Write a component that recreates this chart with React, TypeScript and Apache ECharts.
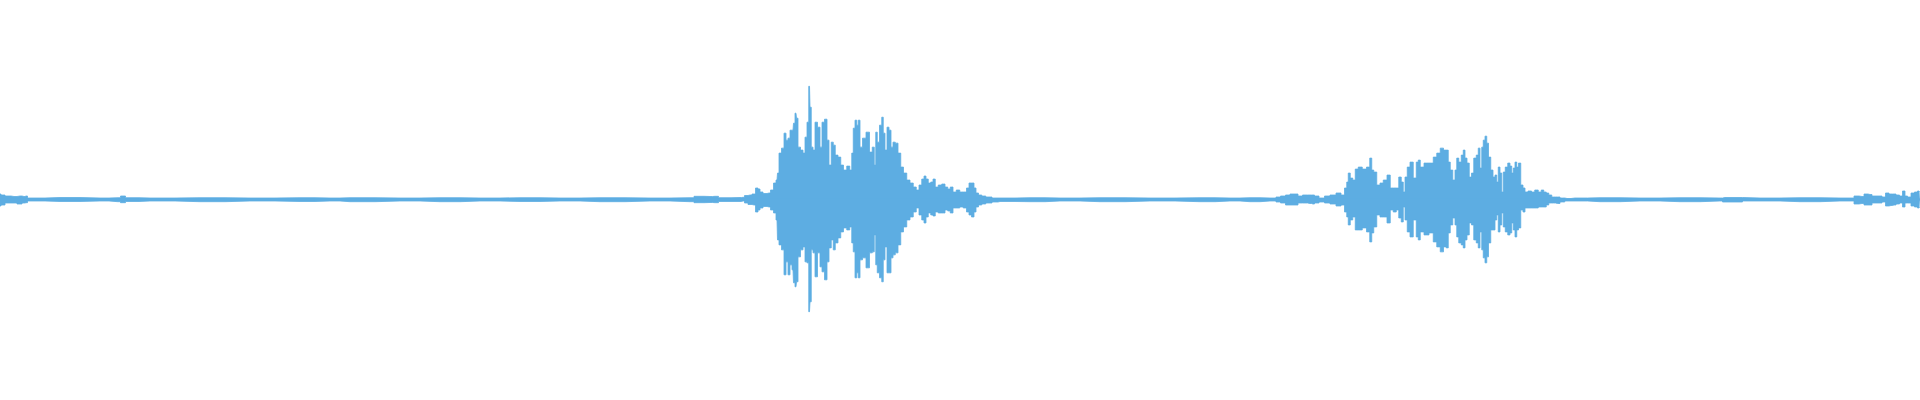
import React, { useEffect, useRef } from "react";
import * as echarts from "echarts";

// [time (s), peak high (% full scale), peak low (% full scale)]
const quietStart: [number, number, number][] = [
  [0, 2.75, -3.25], [0.02, 2.25, -2.75], [0.08, 1.75, -1.75], [0.14, 1.5, -1.75],
  [0.2, 1.75, -2.25], [0.24, 1.5, -1.75], [0.26, 1.75, -1.6], [0.29, 0.75, -0.75],
  [0.3, 0.75, -0.75], [0.6, 1, -1], [1.0, 0.75, -0.75], [1.18, 0.9, -1.1],
  [1.23, 1.75, -1.6], [1.28, 0.9, -1], [1.5, 0.75, -0.75], [2.0, 0.9, -1.1],
  [2.5, 0.75, -0.75], [3.0, 0.9, -1], [3.3, 0.75, -0.75], [3.5, 0.9, -1.1],
  [4.0, 0.75, -0.75], [4.4, 0.9, -1.1], [4.8, 0.75, -0.75], [5.2, 0.9, -1],
  [5.6, 0.75, -0.75], [6.0, 0.9, -1.1], [6.5, 0.75, -0.75], [6.9, 0.9, -1.1],
  [6.98, 1.6, -1.6], [7.1, 1.5, -1.5], [7.15, 1.6, -1.6], [7.22, 0.9, -1],
  [7.4, 1, -1], [7.43, 1.1, -0.75],
];

const burstA: [number, number, number][] = [
  [7.46, 2, -1.75], [7.5, 2.25, -2.5], [7.54, 2.75, -2.75], [7.57, 5.75, -6.25],
  [7.59, 5.25, -5.25], [7.61, 3.75, -4.25], [7.65, 3, -3.5], [7.69, 3.25, -3.75],
  [7.72, 4.75, -5.25], [7.75, 8.25, -6.75], [7.77, 9.75, -10.25], [7.78, 13.25, -20.25],
  [7.8, 23.25, -22.75], [7.83, 25.75, -25.25], [7.85, 33.25, -37.75], [7.87, 29.75, -31.25],
  [7.89, 30.75, -37.75], [7.91, 34.75, -32.75], [7.93, 34.75, -35.25], [7.94, 38.25, -41.75],
  [7.96, 43.25, -43.75], [7.97, 40.75, -41.25], [7.99, 26.25, -28.75], [8.02, 24.75, -25.25],
  [8.04, 23.25, -23.75], [8.06, 31.25, -31.25], [8.08, 38.75, -31.75], [8.095, 56.75, -56.25],
  [8.105, 46.25, -51.25], [8.12, 26.25, -25.25], [8.14, 24.75, -26.75], [8.16, 38.75, -38.75],
  [8.19, 36.25, -26.75], [8.21, 26.25, -33.75], [8.23, 38.75, -36.25], [8.26, 40.25, -40.25],
  [8.28, 29.75, -31.25], [8.3, 17.25, -24.25], [8.325, 28.75, -20.25], [8.34, 27.25, -25.25],
  [8.365, 22.25, -21.75], [8.395, 21.25, -19.25], [8.42, 17.25, -16.25], [8.45, 14.75, -14.25],
  [8.485, 16.75, -15.25], [8.51, 14.75, -13.75], [8.525, 23.25, -21.75], [8.54, 35.75, -26.25],
  [8.56, 39.75, -39.25], [8.575, 37.25, -36.75], [8.59, 39.75, -39.25], [8.61, 26.25, -30.25],
  [8.64, 30.75, -29.25], [8.68, 33.75, -34.25], [8.71, 23.75, -26.75], [8.735, 26.25, -26.25],
  [8.75, 17.25, -17.75], [8.765, 33.75, -32.75], [8.78, 28.75, -36.75], [8.81, 37.25, -39.25],
  [8.825, 41.25, -41.25], [8.84, 33.25, -30.25], [8.86, 24.75, -23.75], [8.88, 36.25, -36.75],
  [8.9, 34.75, -36.75], [8.92, 26.25, -29.25], [8.94, 28.75, -27.75], [8.965, 28.25, -26.75],
  [8.995, 23.25, -22.75], [9.02, 16.25, -16.25], [9.05, 13.25, -13.75], [9.085, 9.75, -10.25],
  [9.115, 8.25, -8.75], [9.15, 6.25, -6.25], [9.175, 4.75, -4.25], [9.205, 7.25, -7.75],
  [9.23, 10.25, -10.25], [9.25, 11.75, -11.75], [9.27, 10.25, -8.75], [9.295, 8.25, -6.75],
  [9.32, 8.75, -7.75], [9.34, 10.25, -8.25], [9.365, 6.25, -6.25], [9.4, 7.25, -6.75],
  [9.435, 7.75, -6.75], [9.465, 6.25, -5.25], [9.49, 5.25, -5.75], [9.515, 6.25, -6.75],
  [9.545, 3.75, -4.25], [9.58, 4.75, -4.25], [9.615, 3.75, -3.75], [9.65, 3.75, -4.25],
  [9.68, 5.75, -6.25], [9.7, 8.25, -7.75], [9.73, 8.25, -8.75], [9.75, 5.75, -6.25],
  [9.77, 3.25, -3.75], [9.8, 2.25, -2.75], [9.835, 1.75, -2.25], [9.88, 1.25, -1.75],
  [9.96, 0.75, -1.25],
];

const quietMid: [number, number, number][] = [
  [10.0, 0.75, -1], [10.3, 0.9, -1.1], [10.6, 0.75, -0.75], [11.0, 0.9, -1.1],
  [11.5, 0.75, -0.75], [12.0, 0.9, -1.1], [12.3, 0.75, -0.75], [12.5, 0.9, -1.1],
  [12.7, 0.75, -0.75], [12.74, 0.75, -0.75],
];

const burstB: [number, number, number][] = [
  [12.78, 1.25, -1.25], [12.83, 1.75, -1.75], [12.88, 2.25, -2.75], [12.92, 2.75, -2.75],
  [12.96, 2.75, -2.75], [13.0, 1.75, -1.75], [13.05, 2.25, -1.75], [13.1, 2.25, -2],
  [13.13, 2.25, -2.25], [13.16, 1.75, -1.75], [13.22, 0.75, -1.25], [13.27, 1.75, -1.75],
  [13.33, 2.25, -2.25], [13.39, 3.25, -3.25], [13.43, 2.25, -2.75], [13.46, 5.75, -6.25],
  [13.475, 8.75, -8.75], [13.49, 13.25, -12.75], [13.515, 10.75, -10.25], [13.54, 9.75, -8.75],
  [13.565, 15.25, -15.25], [13.6, 16.25, -15.25], [13.645, 15.25, -14.25], [13.685, 16.25, -16.25],
  [13.71, 20.75, -21.25], [13.725, 14.75, -16.75], [13.75, 13.75, -13.75], [13.785, 7.25, -7.75],
  [13.815, 8.25, -8.75], [13.85, 9.75, -8.75], [13.89, 12.25, -11.75], [13.915, 5.75, -5.25],
  [13.95, 5.75, -6.25], [13.975, 5.75, -5.25], [14.0, 11.25, -9.25], [14.025, 8.75, -11.25],
  [14.04, 3.75, -3.75], [14.06, 11.25, -10.25], [14.085, 16.25, -16.25], [14.115, 18.75, -18.75],
  [14.15, 10.75, -10.25], [14.175, 18.75, -18.75], [14.19, 19.75, -20.25], [14.215, 16.25, -16.25],
  [14.265, 18.25, -17.75], [14.315, 18.25, -16.75], [14.35, 21.25, -21.25], [14.385, 23.25, -23.75],
  [14.42, 25.75, -26.25], [14.45, 24.75, -23.75], [14.475, 24.75, -24.25], [14.49, 18.75, -16.75],
  [14.515, 14.75, -12.75], [14.54, 9.75, -9.25], [14.56, 14.75, -12.75], [14.575, 20.75, -18.75],
  [14.6, 18.75, -21.75], [14.625, 22.25, -22.75], [14.64, 24.75, -24.25], [14.66, 20.75, -20.25],
  [14.68, 18.25, -17.75], [14.705, 11.25, -11.75], [14.725, 13.25, -12.75], [14.75, 20.75, -20.25],
  [14.775, 22.25, -21.75], [14.79, 25.75, -24.25], [14.81, 15.75, -16.25], [14.825, 26.25, -25.25],
  [14.84, 29.75, -29.25], [14.86, 31.75, -31.75], [14.875, 28.25, -28.75], [14.895, 21.25, -21.75],
  [14.92, 14.75, -15.25], [14.94, 11.25, -15.25], [14.96, 12.25, -10.25], [14.975, 8.75, -7.75],
  [14.99, 16.25, -16.25], [15.01, 13.25, -12.75], [15.025, 3.75, -6.75], [15.04, 13.75, -13.75],
  [15.065, 16.25, -16.25], [15.09, 18.25, -17.75], [15.11, 16.75, -16.75], [15.125, 13.25, -11.75],
  [15.14, 15.75, -15.25], [15.16, 18.75, -18.75], [15.175, 16.25, -15.25], [15.195, 18.25, -14.25],
  [15.22, 7.25, -5.25], [15.24, 5.75, -6.25], [15.26, 3.75, -4.25], [15.3, 4.25, -4.25],
  [15.33, 3.75, -4.25], [15.365, 4.75, -4.25], [15.4, 3.75, -3.75], [15.425, 4.75, -3.75],
  [15.45, 3.75, -3.75], [15.475, 3.25, -2.75], [15.5, 2.25, -1.75], [15.535, 1.25, -1.75],
  [15.575, 1.25, -2], [15.625, 0.75, -1.25], [15.67, 0.5, -0.75],
];

const quietEnd: [number, number, number][] = [
  [15.75, 0.75, -0.75], [16.0, 0.9, -1.1], [16.4, 0.75, -0.75], [16.8, 0.9, -1.1],
  [17.2, 0.75, -0.75], [17.25, 1, -1.25], [17.6, 0.75, -0.75], [18.0, 0.9, -1.1],
  [18.4, 0.75, -0.75], [18.52, 0.75, -0.75], [18.56, 1.75, -2.25], [18.62, 1.5, -2],
  [18.66, 2.75, -2.75], [18.7, 2.5, -2.75], [18.74, 1.75, -1.75], [18.8, 1.75, -1.75],
  [18.84, 1.25, -1.25], [18.87, 3.25, -3.25], [18.91, 2.75, -3], [18.94, 2.75, -2.75],
  [18.98, 2.25, -2.25], [19.01, 1.75, -1.75], [19.04, 4.25, -3.75], [19.06, 1.75, -1.75],
  [19.09, 1.25, -1.75], [19.13, 3.25, -3.25], [19.16, 3.75, -3.75], [19.19, 4.25, -4.25],
  [19.2, 3.75, -3.75],
];

const DURATION = 19.2;
const WAVE_COLOR = "#5DADE2";

export default function App() {
  const ref = useRef<HTMLDivElement>(null);

  useEffect(() => {
    if (!ref.current) return;
    const chart = echarts.init(ref.current, undefined, { renderer: "svg" });
    const all = [...quietStart, ...burstA, ...quietMid, ...burstB, ...quietEnd];
    const high = all.map((d) => [d[0], d[1]]);
    const low = all.map((d) => [d[0], d[2]]);
    const common = {
      type: "line" as const,
      showSymbol: false,
      symbol: "none",
      silent: true,
      step: "middle" as const,
      lineStyle: { color: WAVE_COLOR, width: 0.8 },
      itemStyle: { color: WAVE_COLOR },
    };
    chart.setOption({
      animation: false,
      backgroundColor: "#ffffff",
      grid: { left: 0, right: 0, top: 0, bottom: 1 },
      tooltip: { show: false },
      xAxis: { type: "value", min: 0, max: DURATION, show: false },
      yAxis: { type: "value", min: -100, max: 100, show: false },
      series: [
        {
          ...common,
          name: "high",
          data: high,
          areaStyle: { color: WAVE_COLOR, opacity: 1, origin: -0.5 },
        },
        {
          ...common,
          name: "low",
          data: low,
          areaStyle: { color: WAVE_COLOR, opacity: 1, origin: 0.5 },
        },
      ],
    });
    return () => chart.dispose();
  }, []);

  return (
    <div
      ref={ref}
      style={{ position: "absolute", left: 0, top: 0, width: 1920, height: 400 }}
    />
  );
}
